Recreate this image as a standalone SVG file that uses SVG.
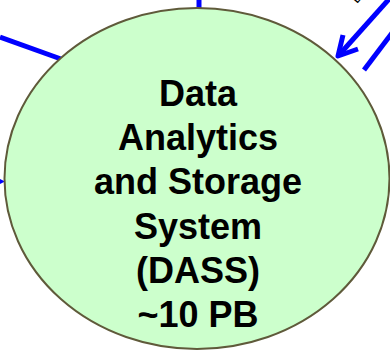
<svg xmlns="http://www.w3.org/2000/svg" width="390" height="352" viewBox="0 0 390 352">
<style>
.conn{stroke:#0000ff;stroke-width:5;fill:none;stroke-linecap:butt}
.lbl{font-family:"Liberation Sans",Arial,sans-serif;font-weight:bold;font-size:36px;fill:#000;text-anchor:middle}
</style>
<rect width="390" height="352" fill="#fff"/>
<g id="connectors">
<line class="conn" x1="199" y1="0" x2="199" y2="9"/>
<line class="conn" x1="0" y1="37" x2="61" y2="59"/>
<polygon points="0,179 5,181.5 0,184" fill="#0000ff"/>
<line class="conn" x1="390" y1="-2" x2="339" y2="55"/>
<polyline class="conn" points="343,35 338,56 358,49" stroke-linecap="round" stroke-linejoin="round"/>
<line class="conn" x1="392" y1="33" x2="364" y2="70" stroke-linecap="round"/>
<text x="357" y="4" font-family="Liberation Sans,Arial,sans-serif" font-size="14" transform="rotate(-50 357 4)" fill="#000">L</text>
</g>
<g id="dass">
<ellipse cx="197" cy="178.5" rx="192.5" ry="170.5" fill="#ccffcc" stroke="#5f5a3a" stroke-width="2"/>
<text class="lbl" x="198" y="106">Data</text>
<text class="lbl" x="198" y="150">Analytics</text>
<text class="lbl" x="198" y="194">and Storage</text>
<text class="lbl" x="198" y="239">System</text>
<text class="lbl" x="198" y="283">(DASS)</text>
<text class="lbl" x="198" y="327">~10 PB</text>
</g>
</svg>
